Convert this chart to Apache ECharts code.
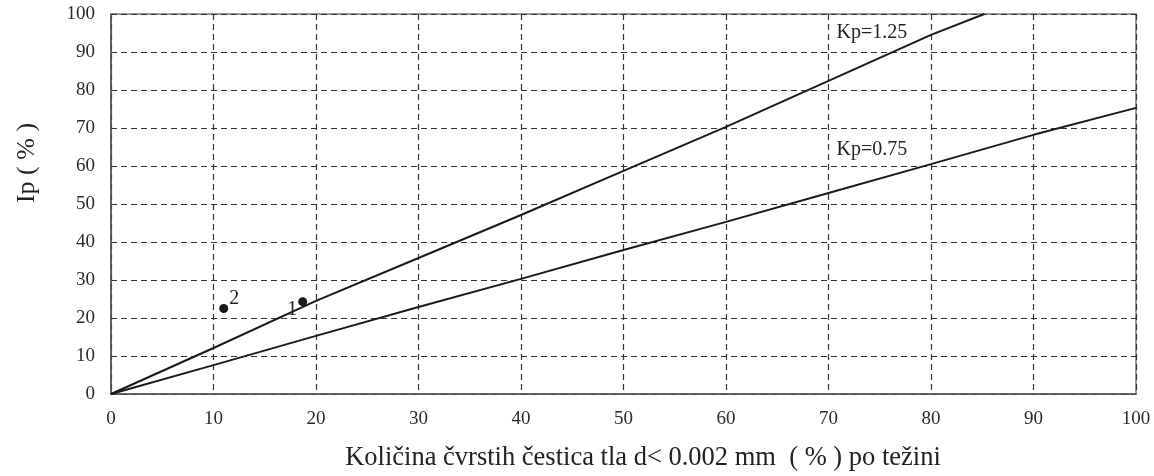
<!DOCTYPE html>
<html>
<head>
<meta charset="utf-8">
<script src="https://cdn.jsdelivr.net/npm/echarts@6/dist/echarts.min.js"></script>
<style>
  html, body { margin: 0; padding: 0; background: #fff; }
  #chart { width: 1154px; height: 476px; }
</style>
</head>
<body>
<div id="chart"></div>
<script>
// Plasticity index Ip against clay fraction, with two Kp reference lines
const xTicks = [0, 10, 20, 30, 40, 50, 60, 70, 80, 90, 100];
const yTicks = [0, 10, 20, 30, 40, 50, 60, 70, 80, 90, 100];

const kp125X = [0, 10, 20, 30, 40, 50, 60, 70, 80, 85.2];
const kp125Y = [0, 12.1, 24.5, 35.8, 47.1, 58.7, 70.3, 82.4, 94.5, 100];

const kp075X = [0, 10, 20, 30, 40, 50, 60, 70, 80, 90, 100];
const kp075Y = [0, 7.6, 15.3, 22.9, 30.3, 37.9, 45.3, 52.9, 60.5, 68.2, 75.3];

const sampleNames = ['1', '2'];
const sampleX = [18.7, 11.0];
const sampleY = [24.3, 22.5];

const xTitle = 'Količina čvrstih čestica tla d< 0.002 mm  ( % ) po težini';
const yTitle = 'Ip ( % )';

const FONT = '"Liberation Serif", "DejaVu Serif", serif';
const INK = '#1a1a1a';
const TEXT = '#222';

const pairs = (xs, ys) => xs.map((x, i) => [x, ys[i]]);

const chart = echarts.init(document.getElementById('chart'));
chart.setOption({
  animation: false,
  backgroundColor: '#ffffff',
  grid: {
    left: 111, right: 18, top: 14, bottom: 82,
    show: true, borderColor: '#7a7a7a', borderWidth: 1.5, backgroundColor: 'transparent'
  },
  xAxis: {
    type: 'value', min: xTicks[0], max: xTicks[xTicks.length - 1], interval: 10,
    axisLine: { show: true, lineStyle: { color: '#555', width: 1.5 } },
    axisTick: { show: false },
    axisLabel: { margin: 16, fontFamily: FONT, fontSize: 19, color: '#2a2a2a' },
    splitLine: { show: true, lineStyle: { color: '#333', width: 1.2, type: [6, 4] } }
  },
  yAxis: {
    type: 'value', min: yTicks[0], max: yTicks[yTicks.length - 1], interval: 10,
    axisLine: { show: true, lineStyle: { color: '#555', width: 1.5 } },
    axisTick: { show: false },
    axisLabel: { margin: 16, fontFamily: FONT, fontSize: 19, color: '#2a2a2a' },
    splitLine: { show: true, lineStyle: { color: '#333', width: 1.2, type: [6, 4] } }
  },
  graphic: [
    {
      type: 'text', x: 643, y: 458,
      style: { text: xTitle, fontFamily: FONT, fontSize: 26.5, fill: TEXT,
               align: 'center', verticalAlign: 'middle' }
    },
    {
      type: 'text', x: 27, y: 163, rotation: Math.PI / 2,
      style: { text: yTitle, fontFamily: FONT, fontSize: 26, fill: TEXT,
               align: 'center', verticalAlign: 'middle' }
    }
  ],
  series: [
    {
      name: 'Kp=1.25', type: 'line', data: pairs(kp125X, kp125Y),
      symbol: 'none', lineStyle: { color: INK, width: 2 }, z: 3,
      markPoint: {
        symbol: 'circle', symbolSize: 0,
        data: [{ coord: [70.4, 95.0], value: 'Kp=1.25' }],
        label: { show: true, position: 'right', distance: 4, formatter: 'Kp=1.25',
                 fontFamily: FONT, fontSize: 20, color: TEXT }
      }
    },
    {
      name: 'Kp=0.75', type: 'line', data: pairs(kp075X, kp075Y),
      symbol: 'none', lineStyle: { color: INK, width: 2 }, z: 3,
      markPoint: {
        symbol: 'circle', symbolSize: 0,
        data: [{ coord: [70.4, 64.4], value: 'Kp=0.75' }],
        label: { show: true, position: 'right', distance: 4, formatter: 'Kp=0.75',
                 fontFamily: FONT, fontSize: 20, color: TEXT }
      }
    },
    {
      name: 'uzorci', type: 'scatter',
      data: sampleNames.map((n, i) => ({
        name: n, value: [sampleX[i], sampleY[i]],
        label: {
          show: true, formatter: n, fontFamily: FONT, fontSize: 20, color: TEXT,
          position: i === 0 ? 'left' : 'right',
          distance: 1,
          offset: i === 0 ? [0, 8] : [0, -10]
        }
      })),
      symbol: 'circle', symbolSize: 9,
      itemStyle: { color: INK, opacity: 1 }, z: 4
    }
  ]
});
</script>
</body>
</html>
